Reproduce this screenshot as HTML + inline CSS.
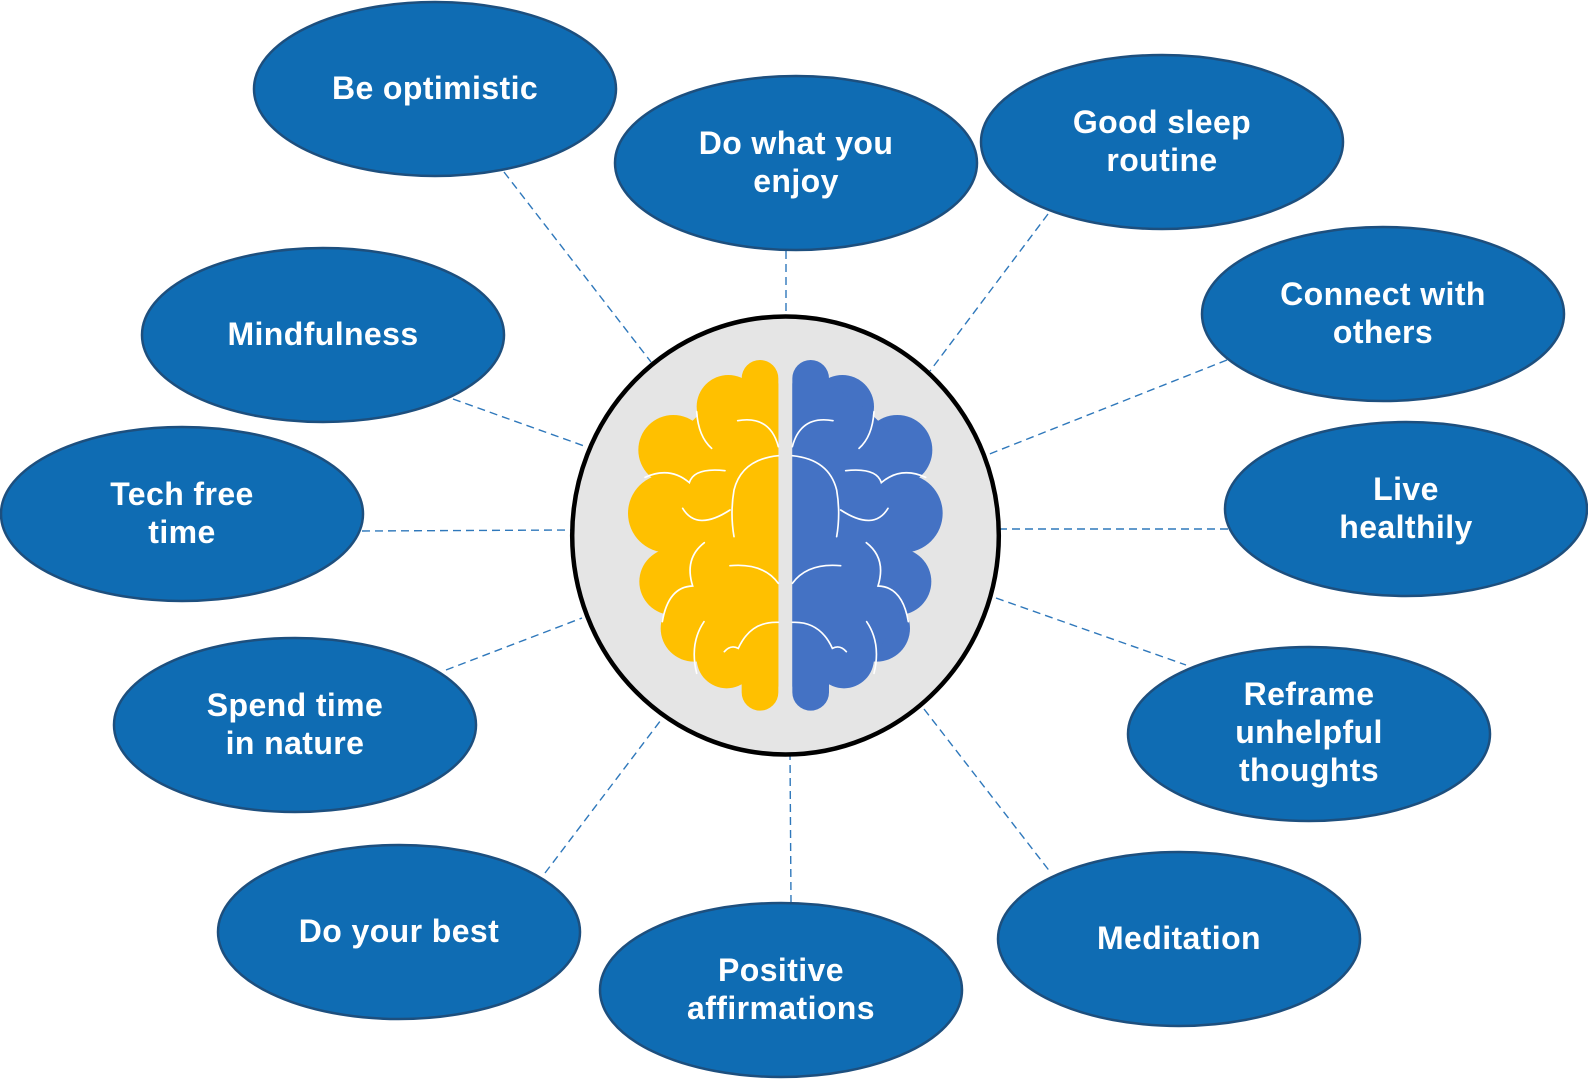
<!DOCTYPE html>
<html>
<head>
<meta charset="utf-8">
<style>
html,body{margin:0;padding:0;background:#fff;}
svg{display:block;}
.el{fill:#0f6cb3;stroke:#1d4f7e;stroke-width:2.5;}
.t{font-family:"Liberation Sans",Arial,sans-serif;font-weight:bold;font-size:32px;fill:#fff;text-anchor:middle;letter-spacing:0.4px;}
.d{stroke:#2f78bb;stroke-width:1.4;stroke-dasharray:8 5;fill:none;}
.w{stroke:#fff;stroke-width:5;fill:none;stroke-linecap:round;}
</style>
</head>
<body>
<svg width="1588" height="1080" viewBox="0 0 1588 1080" xmlns="http://www.w3.org/2000/svg">
<defs>
  <g id="shape">
    <rect x="545" y="180" width="110" height="1052" rx="55" ry="55"/>
    <circle cx="505" cy="320" r="95"/>
    <circle cx="340" cy="450" r="105"/>
    <circle cx="322" cy="640" r="118"/>
    <circle cx="338" cy="845" r="100"/>
    <circle cx="402" cy="985" r="100"/>
    <circle cx="500" cy="1075" r="90"/>
    <polygon points="430,330 545,250 655,250 655,1160 500,1150 400,1060 330,930 310,750 260,640 290,500 360,400"/>
  </g>
  <g id="lines" class="w">
    <path d="M410,335 Q415,410 455,445"/>
    <path d="M533,362 Q630,345 655,440"/>
    <path d="M655,467 Q545,478 522,570 Q510,640 522,710"/>
    <path d="M255,532 Q330,498 388,548 Q402,502 495,512"/>
    <path d="M368,625 Q410,695 510,630"/>
    <path d="M433,728 Q372,775 398,858 Q325,860 307,965"/>
    <path d="M510,797 Q610,788 655,850"/>
    <path d="M432,965 Q388,1030 410,1120"/>
    <path d="M493,1055 Q512,1033 535,1045 Q572,963 655,967"/>
  </g>
</defs>
<!-- connectors -->
<line class="d" x1="504" y1="172" x2="651" y2="362"/>
<line class="d" x1="786" y1="251" x2="786" y2="318"/>
<line class="d" x1="1048" y1="214" x2="930" y2="371"/>
<line class="d" x1="1227" y1="360" x2="987" y2="455"/>
<line class="d" x1="453" y1="399" x2="587" y2="447"/>
<line class="d" x1="362" y1="531" x2="573" y2="530"/>
<line class="d" x1="999" y1="529" x2="1228" y2="529"/>
<line class="d" x1="446" y1="670" x2="582" y2="618"/>
<line class="d" x1="996" y1="598" x2="1186" y2="665"/>
<line class="d" x1="545" y1="873" x2="661" y2="720"/>
<line class="d" x1="790" y1="752" x2="791" y2="902"/>
<line class="d" x1="924" y1="709" x2="1051" y2="873"/>

<!-- central circle -->
<ellipse cx="785.5" cy="535.5" rx="213.3" ry="219" fill="#e5e5e5" stroke="#000" stroke-width="4.5"/>

<!-- brain -->
<g transform="translate(560,300) scale(0.3333333)">
  <g fill="#ffc000"><use href="#shape"/></g>
  <use href="#lines"/>
  <g transform="translate(1352,0) scale(-1,1)">
    <g fill="#4472c4"><use href="#shape"/></g>
    <use href="#lines"/>
  </g>
</g>

<!-- ellipses -->
<ellipse class="el" cx="435" cy="89" rx="181" ry="87"/>
<text class="t" x="435" y="99">Be optimistic</text>

<ellipse class="el" cx="796" cy="163" rx="181" ry="87"/>
<text class="t" x="796" y="154">Do what you</text>
<text class="t" x="796" y="192">enjoy</text>

<ellipse class="el" cx="1162" cy="142" rx="181" ry="87"/>
<text class="t" x="1162" y="133">Good sleep</text>
<text class="t" x="1162" y="171">routine</text>

<ellipse class="el" cx="1383" cy="314" rx="181" ry="87"/>
<text class="t" x="1383" y="305">Connect with</text>
<text class="t" x="1383" y="343">others</text>

<ellipse class="el" cx="323" cy="335" rx="181" ry="87"/>
<text class="t" x="323" y="345">Mindfulness</text>

<ellipse class="el" cx="182" cy="514" rx="181" ry="87"/>
<text class="t" x="182" y="505">Tech free</text>
<text class="t" x="182" y="543">time</text>

<ellipse class="el" cx="1406" cy="509" rx="181" ry="87"/>
<text class="t" x="1406" y="500">Live</text>
<text class="t" x="1406" y="538">healthily</text>

<ellipse class="el" cx="295" cy="725" rx="181" ry="87"/>
<text class="t" x="295" y="716">Spend time</text>
<text class="t" x="295" y="754">in nature</text>

<ellipse class="el" cx="1309" cy="734" rx="181" ry="87"/>
<text class="t" x="1309" y="705">Reframe</text>
<text class="t" x="1309" y="743">unhelpful</text>
<text class="t" x="1309" y="781">thoughts</text>

<ellipse class="el" cx="399" cy="932" rx="181" ry="87"/>
<text class="t" x="399" y="942">Do your best</text>

<ellipse class="el" cx="781" cy="990" rx="181" ry="87"/>
<text class="t" x="781" y="981">Positive</text>
<text class="t" x="781" y="1019">affirmations</text>

<ellipse class="el" cx="1179" cy="939" rx="181" ry="87"/>
<text class="t" x="1179" y="949">Meditation</text>
</svg>
</body>
</html>
